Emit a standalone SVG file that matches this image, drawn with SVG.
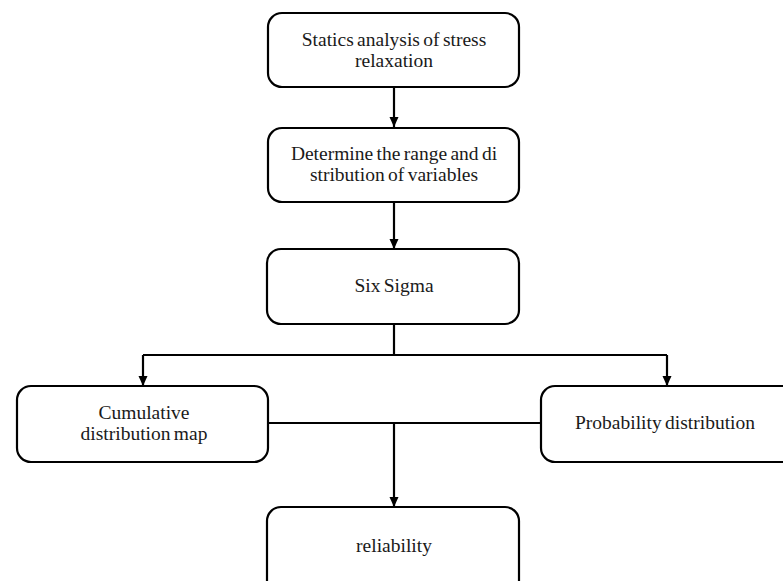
<svg xmlns="http://www.w3.org/2000/svg" width="783" height="581" viewBox="0 0 783 581">
<style>
.box{fill:#fff;stroke:#000;stroke-width:2.2}
.t{font-family:"Liberation Serif","DejaVu Serif",serif;font-size:19.5px;word-spacing:-1.5px;fill:#1a1a1a;text-anchor:middle}
.c{fill:none;stroke:#000;stroke-width:2.2}
</style>
<defs>
<marker id="ah" viewBox="0 0 10 10" refX="10" refY="5" markerWidth="10" markerHeight="10" markerUnits="userSpaceOnUse" orient="auto">
<path d="M0,0.5 L10,5 L0,9.5 Z" fill="#000"/>
</marker>
</defs>
<rect width="783" height="581" fill="#fff"/>
<g id="connectors">
<path class="c" d="M394,87 V127" marker-end="url(#ah)"/>
<path class="c" d="M394,202 V249" marker-end="url(#ah)"/>
<path class="c" d="M394,324 V355"/>
<path class="c" d="M143,355 H667"/>
<path class="c" d="M143,355 V386" marker-end="url(#ah)"/>
<path class="c" d="M667,355 V386" marker-end="url(#ah)"/>
<path class="c" d="M268,423 H541"/>
<path class="c" d="M394,423 V507" marker-end="url(#ah)"/>
</g>
<g id="n1">
<rect class="box" x="268" y="13" width="251" height="74" rx="14"/>
<text class="t" x="394" y="46">Statics analysis of stress</text>
<text class="t" x="394" y="67">relaxation</text>
</g>
<g id="n2">
<rect class="box" x="268" y="128" width="251" height="74" rx="14"/>
<text class="t" x="394" y="160">Determine the range and di</text>
<text class="t" x="394" y="181">stribution of variables</text>
</g>
<g id="n3">
<rect class="box" x="267" y="249" width="252" height="75" rx="14"/>
<text class="t" x="394" y="292">Six Sigma</text>
</g>
<g id="n4">
<rect class="box" x="17" y="386" width="251" height="76" rx="14"/>
<text class="t" x="144" y="419">Cumulative</text>
<text class="t" x="144" y="440">distribution map</text>
</g>
<g id="n5">
<rect class="box" x="541" y="386" width="260" height="76" rx="14"/>
<text class="t" x="665" y="429">Probability distribution</text>
</g>
<g id="n6">
<rect class="box" x="267" y="507" width="252" height="90" rx="14"/>
<text class="t" x="394" y="552">reliability</text>
</g>
</svg>
